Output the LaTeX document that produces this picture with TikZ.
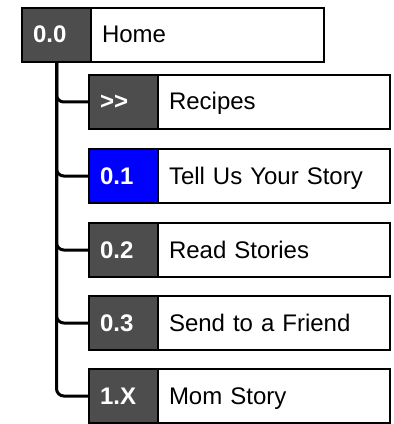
\documentclass[tikz,border=0pt]{standalone}
\usepackage{fontspec}
\setmainfont{Liberation Sans}[Ligatures=NoCommon]
\definecolor{darkbox}{HTML}{4D4D4D}
\definecolor{bluebox}{HTML}{0000FF}
\begin{document}
\begin{tikzpicture}[x=0.75pt,y=-0.75pt,
  box/.style={draw=black,line width=1.5pt,inner xsep=8.25pt,inner ysep=0pt,
    minimum height=40.5pt,text height=13pt,text depth=1pt,align=left,
    anchor=north west,font=\fontsize{18}{21}\selectfont},
  numbox/.style={box,fill=darkbox,text=white,text width=35.25pt,
    font=\fontsize{18}{21}\selectfont\bfseries},
  labelbox/.style={box,fill=white,text=black,text width=157.5pt},
  homelabel/.style={box,fill=white,text=black,text width=158.25pt},
  link/.style={line width=2.25pt,rounded corners=5.5pt}]
\useasboundingbox (0,0) rectangle (393,424);
\node[numbox] (n0) at (21,7) {0.0};
\node[homelabel] (l0) at (90,7) {Home};
\node[numbox] (n1) at (88,74) {{>}\kern0pt{>}};
\node[labelbox] (l1) at (157,74) {Recipes};
\node[numbox,fill=bluebox] (n2) at (88,148) {0.1};
\node[labelbox] (l2) at (157,148) {Tell Us Your Story};
\node[numbox] (n3) at (88,222) {0.2};
\node[labelbox] (l3) at (157,222) {Read Stories};
\node[numbox] (n4) at (88,295) {0.3};
\node[labelbox] (l4) at (157,295) {Send to a Friend};
\node[numbox] (n5) at (88,368) {1.X};
\node[labelbox] (l5) at (157,368) {Mom Story};
\foreach \t in {n1,n2,n3,n4,n5}
  \draw[link] (n0.south) |- (\t.west);
\end{tikzpicture}
\end{document}
